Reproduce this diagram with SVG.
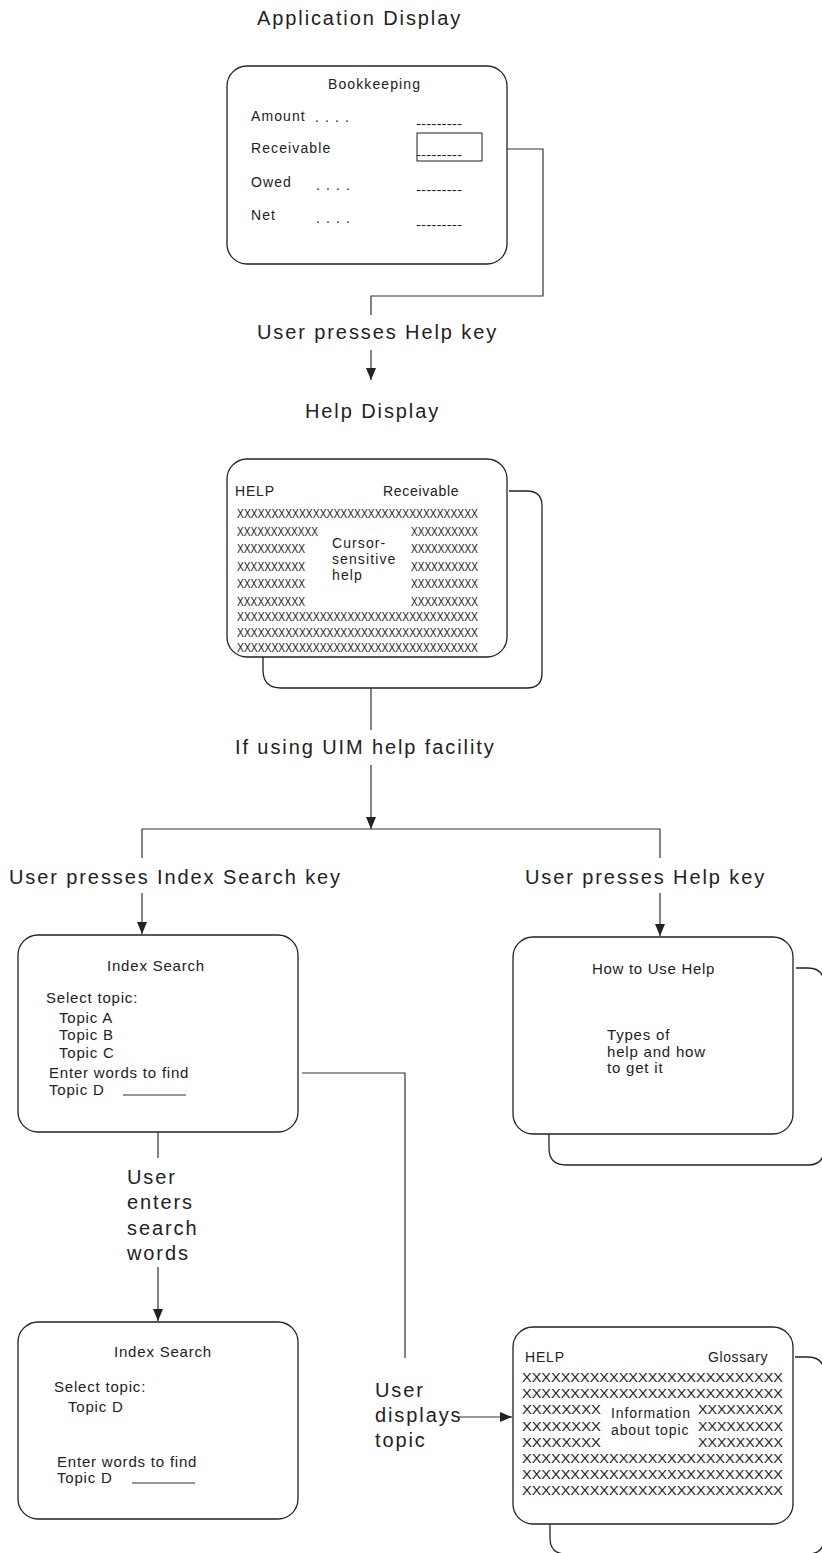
<svg xmlns="http://www.w3.org/2000/svg" width="822" height="1553" viewBox="0 0 822 1553">
<style>
text{font-family:"Liberation Sans",Arial,Helvetica,sans-serif;fill:#222}
.lbl{font-size:20px;letter-spacing:1.9px}
.t14{font-size:14px;letter-spacing:1.1px}
.t15{font-size:15px;letter-spacing:0.8px}
.xs{font-size:12.5px}
.xg{font-size:12.5px}
.dash{font-size:12px}
.box{fill:#fff;stroke:#222;stroke-width:1.3}
.sh{fill:none;stroke:#222;stroke-width:1.3}
.ln{fill:none;stroke:#333;stroke-width:1.2}
.ul{stroke:#333;stroke-width:1.2}
</style>
<defs>
<marker id="arr" markerWidth="12" markerHeight="10" refX="12" refY="5" orient="auto" markerUnits="userSpaceOnUse">
<path d="M0,0 L12,5 L0,10 z" fill="#222"/>
</marker>
</defs>
<rect width="822" height="1553" fill="#fff"/>

<g id="labels">
<text class="lbl" x="257" y="25">Application Display</text>
<text class="lbl" x="257" y="339">User presses Help key</text>
<text class="lbl" x="305" y="418">Help Display</text>
<text class="lbl" x="235" y="754">If using UIM help facility</text>
<text class="lbl" x="9" y="884">User presses Index Search key</text>
<text class="lbl" x="525" y="884">User presses Help key</text>
<text class="lbl" x="127" y="1184">User</text>
<text class="lbl" x="127" y="1209">enters</text>
<text class="lbl" x="127" y="1235">search</text>
<text class="lbl" x="127" y="1260">words</text>
<text class="lbl" x="375" y="1397">User</text>
<text class="lbl" x="375" y="1422">displays</text>
<text class="lbl" x="375" y="1447">topic</text>
</g>

<g id="connectors">
<path class="ln" d="M483,149 H543 V296 H371 V315"/>
<path class="ln" d="M371,350 V380" marker-end="url(#arr)"/>
<path class="ln" d="M371,688 V730"/>
<path class="ln" d="M371,765 V829" marker-end="url(#arr)"/>
<path class="ln" d="M142,858 V829 H660 V858"/>
<path class="ln" d="M142,893 V934" marker-end="url(#arr)"/>
<path class="ln" d="M660,893 V936" marker-end="url(#arr)"/>
<path class="ln" d="M158,1132 V1158"/>
<path class="ln" d="M158,1267 V1321" marker-end="url(#arr)"/>
<path class="ln" d="M302,1073 H405 V1358"/>
<path class="ln" d="M457,1417 H512" marker-end="url(#arr)"/>
</g>

<g id="bookkeeping">
<rect class="box" x="227" y="66" width="280" height="198" rx="20"/>
<text class="t14" x="328" y="89">Bookkeeping</text>
<text class="t14" x="251" y="121">Amount</text>
<text class="t14" x="315" y="122">. . . .</text>
<text class="t14" x="251" y="153">Receivable</text>
<text class="t14" x="251" y="187">Owed</text>
<text class="t14" x="316" y="190">. . . .</text>
<text class="t14" x="251" y="220">Net</text>
<text class="t14" x="316" y="223">. . . .</text>
<text class="dash" x="416" y="128" textLength="46" lengthAdjust="spacingAndGlyphs">---------</text>
<text class="dash" x="416" y="159" textLength="46" lengthAdjust="spacingAndGlyphs">---------</text>
<text class="dash" x="416" y="194" textLength="46" lengthAdjust="spacingAndGlyphs">---------</text>
<text class="dash" x="416" y="229" textLength="46" lengthAdjust="spacingAndGlyphs">---------</text>
<rect x="417" y="133" width="65" height="28" fill="none" stroke="#333" stroke-width="1.1"/>
</g>

<g id="help-display">
<path class="sh" d="M509,491 H527 Q542,491 542,506 V673 Q542,688 527,688 H281 Q263,688 263,670 V657"/>
<rect class="box" x="227" y="459" width="280" height="198" rx="20" fill="none"/>
<text class="t14" x="235" y="496" style="letter-spacing:0.8px">HELP</text>
<text class="t14" x="383" y="496" style="letter-spacing:0.7px">Receivable</text>
<text class="xs" x="237" y="518" textLength="241" lengthAdjust="spacingAndGlyphs">XXXXXXXXXXXXXXXXXXXXXXXXXXXXXXXXXXX</text>
<text class="xs" x="237" y="535.5" textLength="81" lengthAdjust="spacingAndGlyphs">XXXXXXXXXXXX</text>
<text class="xs" x="411" y="535.5" textLength="67" lengthAdjust="spacingAndGlyphs">XXXXXXXXXX</text>
<text class="xs" x="237" y="553" textLength="68" lengthAdjust="spacingAndGlyphs">XXXXXXXXXX</text>
<text class="xs" x="411" y="553" textLength="67" lengthAdjust="spacingAndGlyphs">XXXXXXXXXX</text>
<text class="xs" x="237" y="570.5" textLength="68" lengthAdjust="spacingAndGlyphs">XXXXXXXXXX</text>
<text class="xs" x="411" y="570.5" textLength="67" lengthAdjust="spacingAndGlyphs">XXXXXXXXXX</text>
<text class="xs" x="237" y="588" textLength="68" lengthAdjust="spacingAndGlyphs">XXXXXXXXXX</text>
<text class="xs" x="411" y="588" textLength="67" lengthAdjust="spacingAndGlyphs">XXXXXXXXXX</text>
<text class="xs" x="237" y="605.5" textLength="68" lengthAdjust="spacingAndGlyphs">XXXXXXXXXX</text>
<text class="xs" x="411" y="605.5" textLength="67" lengthAdjust="spacingAndGlyphs">XXXXXXXXXX</text>
<text class="xs" x="237" y="621" textLength="241" lengthAdjust="spacingAndGlyphs">XXXXXXXXXXXXXXXXXXXXXXXXXXXXXXXXXXX</text>
<text class="xs" x="237" y="636.5" textLength="241" lengthAdjust="spacingAndGlyphs">XXXXXXXXXXXXXXXXXXXXXXXXXXXXXXXXXXX</text>
<text class="xs" x="237" y="652" textLength="241" lengthAdjust="spacingAndGlyphs">XXXXXXXXXXXXXXXXXXXXXXXXXXXXXXXXXXX</text>
<text class="t14" x="332" y="548">Cursor-</text>
<text class="t14" x="332" y="564">sensitive</text>
<text class="t14" x="332" y="580">help</text>
</g>

<g id="index-search-1">
<rect class="box" x="18" y="935" width="280" height="197" rx="20"/>
<text class="t15" x="107" y="971">Index Search</text>
<text class="t15" x="46" y="1003">Select topic:</text>
<text class="t15" x="59" y="1023">Topic A</text>
<text class="t15" x="59" y="1040">Topic B</text>
<text class="t15" x="59" y="1058">Topic C</text>
<text class="t15" x="49" y="1078">Enter words to find</text>
<text class="t15" x="49" y="1095">Topic D</text>
<line class="ul" x1="123" y1="1095" x2="186" y2="1095"/>
</g>

<g id="how-to-use-help">
<path class="sh" d="M796,968 H808 Q824,968 824,984 V1149 Q824,1165 808,1165 H566 Q549,1165 549,1148 V1134"/>
<rect class="box" x="513" y="937" width="280" height="197" rx="20"/>
<text class="t15" x="592" y="974" style="letter-spacing:0.7px">How to Use Help</text>
<text class="t15" x="607" y="1040">Types of</text>
<text class="t15" x="607" y="1057">help and how</text>
<text class="t15" x="607" y="1073">to get it</text>
</g>

<g id="index-search-2">
<rect class="box" x="18" y="1322" width="280" height="197" rx="20"/>
<text class="t15" x="114" y="1357">Index Search</text>
<text class="t15" x="54" y="1392">Select topic:</text>
<text class="t15" x="68" y="1412">Topic D</text>
<text class="t15" x="57" y="1467">Enter words to find</text>
<text class="t15" x="57" y="1483">Topic D</text>
<line class="ul" x1="132" y1="1483" x2="195" y2="1483"/>
</g>

<g id="glossary">
<path class="sh" d="M795,1357 H808 Q824,1357 824,1373 V1538 Q824,1554 808,1554 H566 Q550,1554 550,1538 V1524"/>
<rect class="box" x="513" y="1327" width="280" height="197" rx="20"/>
<text class="t14" x="525" y="1362" style="letter-spacing:0.8px">HELP</text>
<text class="t14" x="708" y="1362" style="letter-spacing:0.6px">Glossary</text>
<text class="xg" x="522" y="1382" textLength="261" lengthAdjust="spacingAndGlyphs">XXXXXXXXXXXXXXXXXXXXXXXXXXX</text>
<text class="xg" x="522" y="1398" textLength="261" lengthAdjust="spacingAndGlyphs">XXXXXXXXXXXXXXXXXXXXXXXXXXX</text>
<text class="xg" x="522" y="1414" textLength="79" lengthAdjust="spacingAndGlyphs">XXXXXXXX</text>
<text class="xg" x="698" y="1414" textLength="85" lengthAdjust="spacingAndGlyphs">XXXXXXXXX</text>
<text class="xg" x="522" y="1431" textLength="79" lengthAdjust="spacingAndGlyphs">XXXXXXXX</text>
<text class="xg" x="698" y="1431" textLength="85" lengthAdjust="spacingAndGlyphs">XXXXXXXXX</text>
<text class="xg" x="522" y="1447" textLength="79" lengthAdjust="spacingAndGlyphs">XXXXXXXX</text>
<text class="xg" x="698" y="1447" textLength="85" lengthAdjust="spacingAndGlyphs">XXXXXXXXX</text>
<text class="xg" x="522" y="1463" textLength="261" lengthAdjust="spacingAndGlyphs">XXXXXXXXXXXXXXXXXXXXXXXXXXX</text>
<text class="xg" x="522" y="1479" textLength="261" lengthAdjust="spacingAndGlyphs">XXXXXXXXXXXXXXXXXXXXXXXXXXX</text>
<text class="xg" x="522" y="1495" textLength="261" lengthAdjust="spacingAndGlyphs">XXXXXXXXXXXXXXXXXXXXXXXXXXX</text>
<text class="t14" x="611" y="1418" style="letter-spacing:0.9px">Information</text>
<text class="t14" x="611" y="1435" style="letter-spacing:0.9px">about topic</text>
</g>
</svg>
